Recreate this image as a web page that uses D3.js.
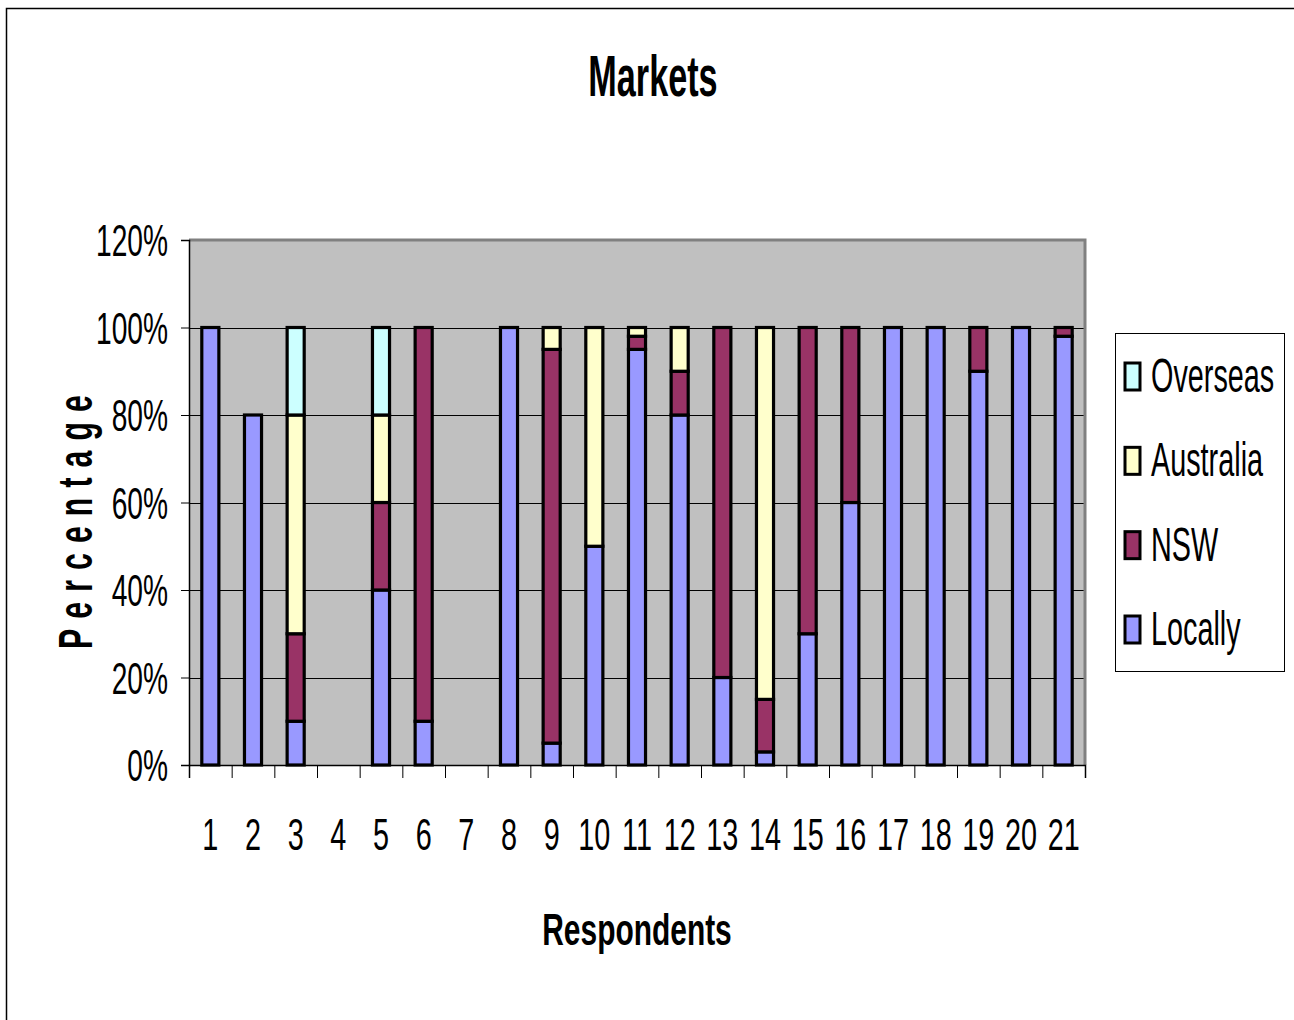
<!DOCTYPE html>
<html>
<head>
<meta charset="utf-8">
<script src="https://cdn.jsdelivr.net/npm/d3@7"></script>
<style>
  html, body { margin: 0; padding: 0; background: #fff; }
  svg { display: block; }
  text { font-family: "Liberation Sans", Arial, sans-serif; fill: #000; }
</style>
</head>
<body>
<svg id="chart" width="1294" height="1020"></svg>
<script>
const categories = ["1","2","3","4","5","6","7","8","9","10","11","12","13","14","15","16","17","18","19","20","21"];
const locally   = [100, 80, 10, 0, 40, 10, 0, 100, 5, 50, 95, 80, 20, 3, 30, 60, 100, 100, 90, 100, 98];
const nsw       = [0, 0, 20, 0, 20, 90, 0, 0, 90, 0, 3, 10, 80, 12, 70, 40, 0, 0, 10, 0, 2];
const australia = [0, 0, 50, 0, 20, 0, 0, 0, 5, 50, 2, 10, 0, 85, 0, 0, 0, 0, 0, 0, 0];
const overseas  = [0, 0, 20, 0, 20, 0, 0, 0, 0, 0, 0, 0, 0, 0, 0, 0, 0, 0, 0, 0, 0];
const seriesNames = ["Locally", "NSW", "Australia", "Overseas"];
const seriesColors = ["#9999FF", "#993366", "#FFFFCC", "#CCFFFF"];
const yTicks = [0, 0.2, 0.4, 0.6, 0.8, 1.0, 1.2];

const svg = d3.select("#chart");

// outer frame
svg.append("path").attr("d", "M6.5,1020 L6.5,8.5 L1294,8.5")
  .attr("fill", "none").attr("stroke", "#000").attr("stroke-width", 1.5);

const L = 189, R = 1085, T = 240, B = 765;
const x = d3.scaleBand().domain(categories).range([L, R]).paddingInner(0.6).paddingOuter(0.3);
const xb = d3.scaleLinear().domain([0, categories.length]).range([L, R]);
const y = d3.scaleLinear().domain([0, 1.2]).range([B, T]);

// plot background
svg.append("rect").attr("x", L).attr("y", T).attr("width", R - L).attr("height", B - T).attr("fill", "#C0C0C0");

// gridlines
svg.append("g").selectAll("line").data(yTicks.filter(d => d > 0 && d < 1.2)).join("line")
  .attr("x1", L).attr("x2", R).attr("y1", d => Math.round(y(d)) + 0.5).attr("y2", d => Math.round(y(d)) + 0.5)
  .attr("stroke", "#000").attr("stroke-width", 1);

// plot border top/right
svg.append("path").attr("d", `M${L},${T} L${R},${T} L${R},${B}`)
  .attr("fill", "none").attr("stroke", "#808080").attr("stroke-width", 3);

// stacked data
const table = categories.map((c, i) => ({ cat: c, Locally: locally[i] / 100, NSW: nsw[i] / 100, Australia: australia[i] / 100, Overseas: overseas[i] / 100 }));
const stack = d3.stack().keys(seriesNames)(table);

const gBars = svg.append("g");
stack.forEach((layer, si) => {
  gBars.append("g").selectAll("rect").data(layer.filter(d => d[1] - d[0] > 0)).join("rect")
    .attr("x", d => x(d.data.cat))
    .attr("width", x.bandwidth())
    .attr("y", d => y(d[1]))
    .attr("height", d => y(d[0]) - y(d[1]))
    .attr("fill", seriesColors[si])
    .attr("stroke", "#000").attr("stroke-width", 3.2);
});

const sx = 0.62;
// y axis
const yAxis = svg.append("g").attr("transform", `translate(${L},0)`)
  .call(d3.axisLeft(y).tickValues(yTicks).tickSize(8).tickFormat(d3.format(".0%")));
yAxis.select(".domain").attr("stroke", "#000").attr("stroke-width", 1.5);
yAxis.selectAll(".tick line").attr("stroke", "#000");
yAxis.selectAll(".tick text")
  .attr("font-size", 44).attr("font-family", "Liberation Sans, Arial, sans-serif")
  .attr("x", -21 / sx).attr("dy", "0.36em")
  .attr("transform", `scale(0.64,1)`).attr("x", -21 / 0.64);

// x axis tick marks between categories
const xAxisTicks = svg.append("g").attr("transform", `translate(0,${B})`)
  .call(d3.axisBottom(xb).tickValues(d3.range(0, categories.length + 1)).tickSize(13).tickFormat(""));
xAxisTicks.select(".domain").attr("stroke", "#000").attr("stroke-width", 1.5);
xAxisTicks.selectAll(".tick line").attr("stroke", "#000");

// x labels
const xAxis = svg.append("g").attr("transform", `translate(0,${B})`)
  .call(d3.axisBottom(x).tickSize(0));
xAxis.select(".domain").remove();
xAxis.selectAll(".tick text")
  .attr("font-size", 45).attr("font-family", "Liberation Sans, Arial, sans-serif")
  .attr("y", 85).attr("dy", 0)
  .attr("transform", `scale(0.64,1)`);

// title
svg.append("text").attr("transform", "translate(653,96) scale(0.6,1)")
  .attr("text-anchor", "middle").attr("font-size", 57).attr("font-weight", "bold").text("Markets");

// x axis title
svg.append("text").attr("transform", "translate(637,945) scale(0.665,1)")
  .attr("text-anchor", "middle").attr("font-size", 45).attr("font-weight", "bold").text("Respondents");

// y axis title
svg.append("text").attr("transform", "translate(92,517) rotate(-90) scale(0.63,1)")
  .attr("text-anchor", "middle").attr("font-size", 48).attr("font-weight", "bold")
  .attr("letter-spacing", 16).text("Percentage");

// legend
const leg = svg.append("g");
leg.append("rect").attr("x", 1115.5).attr("y", 333.5).attr("width", 169).attr("height", 338)
  .attr("fill", "#fff").attr("stroke", "#000").attr("stroke-width", 1);
const legOrder = [3, 2, 1, 0];
const legY = d3.scalePoint().domain(legOrder).range([376, 629]);
legOrder.forEach(si => {
  const cy = legY(si);
  leg.append("rect").attr("x", 1125).attr("y", cy - 13).attr("width", 15).attr("height", 27)
    .attr("fill", seriesColors[si]).attr("stroke", "#000").attr("stroke-width", 3);
  leg.append("text").attr("transform", `translate(1151,${cy + 16}) scale(0.6,1)`)
    .attr("font-size", 48).text(seriesNames[si]);
});
</script>
</body>
</html>
